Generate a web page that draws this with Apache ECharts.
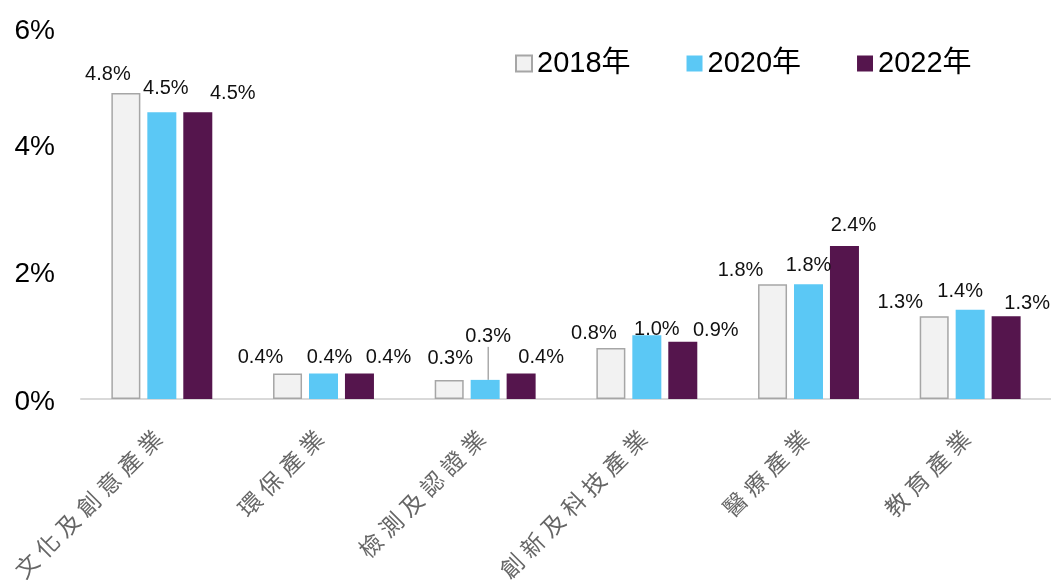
<!DOCTYPE html>
<html>
<head>
<meta charset="utf-8">
<script src="https://cdn.jsdelivr.net/npm/echarts@6/dist/echarts.min.js"></script>
<style>
  html, body { margin: 0; padding: 0; background: #fff; }
  #main { width: 1051px; height: 584px; }
</style>
</head>
<body>
<div id="main"></div>
<script>
var categories = ['文化及創意產業', '環保產業', '檢測及認證業', '創新及科技產業', '醫療產業', '教育產業'];
var years = ['2018年', '2020年', '2022年'];
var v2018 = [4.8, 0.4, 0.3, 0.8, 1.8, 1.3];
var v2020 = [4.5, 0.4, 0.3, 1.0, 1.8, 1.4];
var v2022 = [4.5, 0.4, 0.4, 0.9, 2.4, 1.3];
var yTicks = [0, 2, 4, 6];

// label nudges (px), per series
var labelDx = [
    [-18, -27, 1, -17, -32, -34],
    [4, 6, 3, 10, 0, -10],
    [35, 29, 20, 33, 9, 21]
];
var labelDy = [
    [-4, -1, -6, 0, 1, 1],
    [-9, -1, -28, 9, -4, -3],
    [-4, -1, -1, 4, -6, 2]
];

var font = '"Liberation Sans", Arial, "Noto Sans CJK TC", sans-serif';
var colors = ['#f2f2f2', '#5bc8f5', '#55154d'];

var myChart = echarts.init(document.getElementById('main'));

function makeSeries(idx, values) {
    return {
        name: years[idx],
        type: 'bar',
        barWidth: 29,
        barGap: '24%',
        itemStyle: idx === 0 ? { color: colors[0], borderColor: '#a6a6a6', borderWidth: 1.5 } : { color: colors[idx] },
        label: {
            show: true,
            position: 'top',
            color: '#111',
            fontSize: 20,
            fontFamily: font,
            formatter: function (p) { return p.value.toFixed(1) + '%'; }
        },
        labelLine: { show: false, lineStyle: { color: '#808080', width: 1 } },
        data: values.map(function (v, i) {
            // the small 2020 label in 檢測及認證業 is pulled up with a guide line
            if (idx === 1 && i === 2) {
                return { value: v, labelLine: { show: true, lineStyle: { color: '#808080', width: 1 } } };
            }
            return v;
        })
    };
}

var option = {
    animation: false,
    color: colors,
    grid: { left: 81, right: 0, top: 16.5, bottom: 185, containLabel: false, outerBoundsMode: 'none' },
    legend: {
        data: years,
        left: 515,
        top: 49,
        padding: 0,
        icon: 'rect',
        itemWidth: 16,
        itemHeight: 16,
        itemGap: 56,
        textStyle: { fontSize: 29, color: '#000', fontFamily: font }
    },
    xAxis: {
        type: 'category',
        data: categories,
        axisTick: { show: false },
        axisLine: { lineStyle: { color: '#d9d9d9', width: 2 } },
        axisLabel: {
            interval: 0,
            rotate: 45,
            margin: 35,
            color: '#595959',
            formatter: function (s) {
                return s.split('').map(function (ch) { return '{c|' + ch + '}'; }).join('');
            },
            rich: {
                c: { fontSize: 23, fontFamily: font, color: '#666', padding: [0, 3, 0, 3] }
            }
        }
    },
    yAxis: {
        type: 'value',
        min: yTicks[0],
        max: yTicks[yTicks.length - 1],
        interval: 2,
        axisLine: { show: false },
        axisTick: { show: false },
        splitLine: { show: false },
        axisLabel: {
            margin: 26,
            formatter: function (v) {
                return v === yTicks[yTicks.length - 1] ? '{t|' + v + '%}' : '{n|' + v + '%}';
            },
            rich: {
                n: { fontSize: 28, fontFamily: font, color: '#000', padding: [6, 0, 0, 0] },
                t: { fontSize: 28, fontFamily: font, color: '#000', padding: [30, 0, 0, 0] }
            }
        }
    },
    labelLayout: function (params) {
        return {
            dx: labelDx[params.seriesIndex][params.dataIndex],
            dy: labelDy[params.seriesIndex][params.dataIndex]
        };
    },
    series: [
        makeSeries(0, v2018),
        makeSeries(1, v2020),
        makeSeries(2, v2022)
    ]
};

myChart.setOption(option);
</script>
</body>
</html>
